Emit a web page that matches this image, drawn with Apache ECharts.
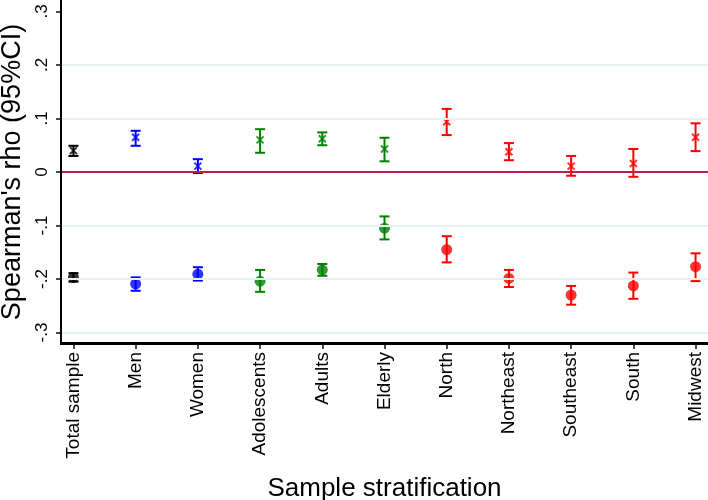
<!DOCTYPE html>
<html>
<head>
<meta charset="utf-8">
<script src="https://cdn.jsdelivr.net/npm/echarts@6/dist/echarts.min.js"></script>
<style>html,body{margin:0;padding:0;background:#fff;}#c{width:708px;height:500px;}</style>
</head>
<body>
<div id="c"></div>
<script>
const categories = ['Total sample','Men','Women','Adolescents','Adults','Elderly','North','Northeast','Southeast','South','Midwest'];
const groupColors = ['#000000','#0000ff','#0000ff','#008000','#008000','#008000','#ff0000','#ff0000','#ff0000','#ff0000','#ff0000'];
const crossEst = [0.040,0.065,0.011,0.060,0.062,0.043,0.094,0.038,0.011,0.016,0.065];
const crossLo  = [0.030,0.049,-0.002,0.036,0.050,0.020,0.069,0.022,-0.007,-0.009,0.039];
const crossHi  = [0.049,0.077,0.024,0.080,0.074,0.064,0.118,0.054,0.030,0.043,0.091];
const dotEst = [-0.197,-0.209,-0.191,-0.204,-0.183,-0.105,-0.145,-0.199,-0.230,-0.213,-0.177];
const dotLo  = [-0.205,-0.222,-0.203,-0.224,-0.194,-0.126,-0.169,-0.215,-0.248,-0.237,-0.204];
const dotHi  = [-0.189,-0.197,-0.178,-0.183,-0.172,-0.083,-0.120,-0.183,-0.213,-0.188,-0.152];
const yTickValues = [-0.3,-0.2,-0.1,0,0.1,0.2,0.3];
const yTickLabels = ['-.3','-.2','-.1','0','.1','.2','.3'];
const gridLineValues = [-0.3,-0.2,-0.1,0.1,0.2];

const X_MIN = -0.2, X_MAX = 10.2, Y_MIN = -0.3215, Y_MAX = 0.3215;
const FONT = "'Liberation Sans', Arial, sans-serif";
const idx = categories.map((_, i) => i);

function errBar(lo, hi) {
  return {
    type: 'custom',
    silent: true,
    z: 3,
    data: idx.map(i => [i, lo[i], hi[i]]),
    encode: { x: 0, y: [1, 2] },
    renderItem: function (params, api) {
      const i = api.value(0);
      const p1 = api.coord([i, api.value(1)]);
      const p2 = api.coord([i, api.value(2)]);
      const w = 5;
      const style = { stroke: groupColors[i], lineWidth: 2, fill: null };
      return {
        type: 'group',
        children: [
          { type: 'line', shape: { x1: p1[0], y1: p1[1], x2: p2[0], y2: p2[1] }, style: style },
          { type: 'line', shape: { x1: p1[0] - w, y1: p1[1], x2: p1[0] + w, y2: p1[1] }, style: style },
          { type: 'line', shape: { x1: p2[0] - w, y1: p2[1], x2: p2[0] + w, y2: p2[1] }, style: style }
        ]
      };
    }
  };
}

const option = {
  animation: false,
  backgroundColor: '#ffffff',
  grid: { left: 61, right: 0, top: 0, bottom: 156, containLabel: false, outerBoundsMode: 'none' },
  xAxis: {
    type: 'value',
    min: X_MIN, max: X_MAX,
    name: 'Sample stratification',
    nameLocation: 'middle',
    nameGap: 132,
    nameTextStyle: { fontFamily: FONT, fontSize: 26, color: '#000' },
    axisLine: { show: true, onZero: false, lineStyle: { color: '#000', width: 2 } },
    axisTick: { show: true, length: 5, lineStyle: { color: '#111', width: 1.5 }, customValues: idx },
    axisLabel: {
      show: true, rotate: 90, fontFamily: FONT, fontSize: 19, color: '#000', margin: 8,
      customValues: idx,
      formatter: v => categories[Math.round(v)]
    },
    splitLine: { show: false }
  },
  yAxis: {
    type: 'value',
    min: Y_MIN, max: Y_MAX,
    name: "Spearman's rho (95%CI)",
    nameLocation: 'middle',
    nameGap: 34,
    nameRotate: 90,
    nameTextStyle: { fontFamily: FONT, fontSize: 27, color: '#000' },
    axisLine: { show: true, onZero: false, lineStyle: { color: '#000', width: 2 } },
    axisTick: { show: true, length: 5, lineStyle: { color: '#111', width: 1.5 }, customValues: yTickValues },
    axisLabel: {
      show: true, rotate: 90, fontFamily: FONT, fontSize: 17, color: '#000', margin: 10,
      customValues: yTickValues,
      formatter: v => { const k = yTickValues.findIndex(t => Math.abs(t - v) < 1e-6); return k >= 0 ? yTickLabels[k] : ''; }
    },
    splitLine: { show: false }
  },
  series: [
    {
      type: 'line',
      data: [],
      silent: true,
      markLine: {
        silent: true,
        symbol: 'none',
        label: { show: false },
        animation: false,
        data: gridLineValues.map(v => ({ yAxis: v, lineStyle: { color: '#e8f0f2', width: 2, type: 'solid' } }))
          .concat([{ yAxis: 0, lineStyle: { color: '#c01b4e', width: 2, type: 'solid' } }])
      }
    },
    {
      type: 'line',
      data: [],
      silent: true,
      z: 6,
      clip: false,
      markLine: {
        silent: true,
        symbol: 'none',
        label: { show: false },
        animation: false,
        data: [
          { xAxis: X_MIN, lineStyle: { color: '#000', width: 2, type: 'solid' } },
          { yAxis: Y_MIN, lineStyle: { color: '#000', width: 2, type: 'solid' } }
        ]
      }
    },
    errBar(crossLo, crossHi),
    errBar(dotLo, dotHi),
    {
      type: 'scatter',
      z: 4,
      symbol: 'path://M0,0L10,10M10,0L0,10',
      symbolSize: 7,
      data: idx.map(i => ({ value: [i, crossEst[i]], itemStyle: { color: groupColors[i], borderColor: groupColors[i], borderWidth: 2 } }))
    },
    {
      type: 'scatter',
      z: 4,
      symbol: 'circle',
      symbolSize: 11,
      data: idx.map(i => ({ value: [i, dotEst[i]], itemStyle: { color: groupColors[i] } }))
    }
  ]
};
const chart = echarts.init(document.getElementById('c'), null, { renderer: 'canvas' });
chart.setOption(option);
</script>
</body>
</html>
